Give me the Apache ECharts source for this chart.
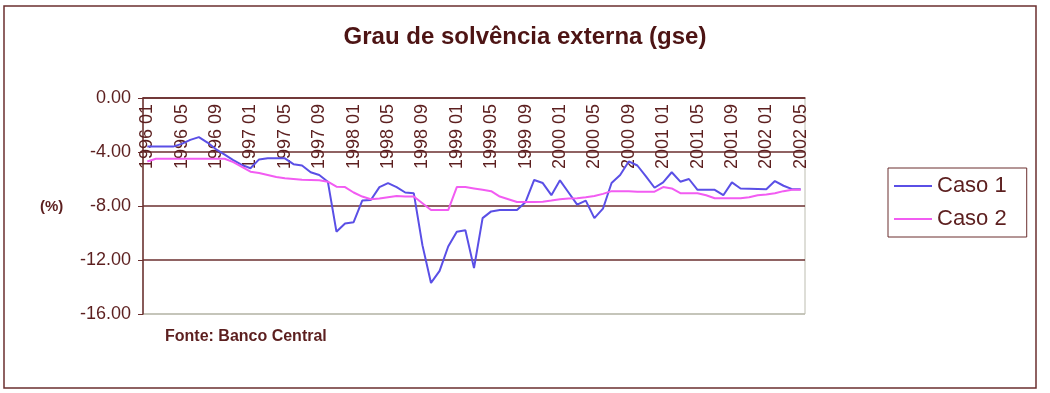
<!DOCTYPE html>
<html>
<head>
<meta charset="utf-8">
<script src="https://cdn.jsdelivr.net/npm/echarts@6/dist/echarts.min.js"></script>
<style>
  html, body { margin: 0; padding: 0; background: #fff; }
  #chart { width: 1050px; height: 393px; }
</style>
</head>
<body>
<div id="chart"></div>
<script>
// months 1996 01 .. 2002 05
const years = [1996, 1997, 1998, 1999, 2000, 2001, 2002]
const months = []
years.forEach(y => {
  for (let m = 1; m <= 12; m++) {
    if (y === 2002 && m > 5) break
    months.push(y + ' ' + String(m).padStart(2, '0'))
  }
})

const yTicks = [-16, -12, -8, -4, 0]

/* Caso 1 */
const caso1 = [
  -3.6, -3.6, -3.6, -3.6, -3.4, -3.1, -2.9, -3.3, -3.8, -4.2, -4.6, -4.95,
  -5.2, -4.55, -4.47, -4.47, -4.47, -4.9, -5.0, -5.5, -5.7, -6.2, -9.9, -9.3,
  -9.2, -7.6, -7.56, -6.6, -6.3, -6.6, -7.0, -7.06, -10.9, -13.7, -12.8, -11.0,
  -9.9, -9.8, -12.6, -8.9, -8.4, -8.3, -8.3, -8.3, -7.7, -6.07, -6.3, -7.2,
  -6.1, -7.0, -7.9, -7.6, -8.9, -8.2, -6.3, -5.7, -4.7, -5.0, -5.8, -6.65,
  -6.25, -5.5, -6.2, -6.0, -6.8, -6.8, -6.8, -7.2, -6.25, -6.7, -6.72, -6.74,
  -6.76, -6.15, -6.5, -6.75, -6.75
]

/* Caso 2 */
const caso2 = [
  -4.7, -4.5, -4.5, -4.5, -4.5, -4.5, -4.5, -4.5, -4.5, -4.5, -4.75, -5.1,
  -5.46, -5.55, -5.7, -5.85, -5.95, -6.0, -6.05, -6.07, -6.1, -6.2, -6.57, -6.6,
  -7.0, -7.3, -7.5, -7.45, -7.35, -7.26, -7.3, -7.3, -7.8, -8.3, -8.3, -8.3,
  -6.6, -6.6, -6.7, -6.8, -6.9, -7.3, -7.5, -7.7, -7.7, -7.7, -7.68, -7.6,
  -7.5, -7.45, -7.43, -7.35, -7.26, -7.1, -6.9, -6.9, -6.9, -6.94, -6.94, -6.94,
  -6.6, -6.7, -7.05, -7.05, -7.05, -7.2, -7.43, -7.43, -7.43, -7.43, -7.35, -7.2,
  -7.15, -7.06, -6.9, -6.8, -6.8
]

const maroon = '#5c1f1f'
const gridMaroon = '#6b2f2f'
const font = '"Liberation Sans", Arial, sans-serif'

const chart = echarts.init(document.getElementById('chart'))

chart.setOption({
  animation: false,
  backgroundColor: '#fff',
  title: {
    text: 'Grau de solvência externa (gse)',
    left: 'center',
    top: 20,
    textStyle: { fontFamily: font, fontSize: 24, fontWeight: 'bold', color: '#4d1414' }
  },
  legend: {
    orient: 'vertical',
    left: 888,
    top: 168,
    padding: [7, 20, 7, 6],
    itemGap: 11,
    itemWidth: 38,
    itemHeight: 2,
    icon: 'rect',
    borderColor: gridMaroon,
    borderWidth: 1,
    textStyle: { fontFamily: font, fontSize: 22, color: maroon },
    data: ['Caso 1', 'Caso 2']
  },
  grid: {
    left: 143,
    right: 245,
    top: 98,
    bottom: 79,
    show: true,
    borderColor: '#bdbdb0',
    borderWidth: 1
  },
  xAxis: {
    type: 'category',
    position: 'top',
    boundaryGap: true,
    data: months,
    axisLine: { lineStyle: { color: gridMaroon, width: 1.5 } },
    axisTick: { inside: true, interval: 0, length: 5, lineStyle: { color: gridMaroon } },
    axisLabel: {
      interval: 3,
      rotate: 90,
      inside: true,
      margin: 6,
      fontFamily: font,
      fontSize: 18,
      color: maroon
    },
    splitLine: { show: false }
  },
  yAxis: {
    type: 'value',
    min: yTicks[0],
    max: yTicks[yTicks.length - 1],
    interval: 4,
    axisLine: { show: true, lineStyle: { color: gridMaroon, width: 1.5 } },
    axisTick: { show: true, length: 5, lineStyle: { color: gridMaroon } },
    axisLabel: {
      margin: 12,
      fontFamily: font,
      fontSize: 18,
      color: maroon,
      formatter: v => v.toFixed(2)
    },
    splitLine: {
      lineStyle: {
        color: ['#bdbdb0', gridMaroon, gridMaroon, gridMaroon, gridMaroon],
        width: 1.5
      }
    }
  },
  series: [
    {
      name: 'Caso 1',
      type: 'line',
      data: caso1,
      showSymbol: false,
      color: '#5a4fe6',
      lineStyle: { width: 2, color: '#5a4fe6' }
    },
    {
      name: 'Caso 2',
      type: 'line',
      data: caso2,
      showSymbol: false,
      color: '#f25cf2',
      lineStyle: { width: 2, color: '#f25cf2' }
    }
  ],
  graphic: [
    {
      type: 'rect',
      shape: { x: 4, y: 6, width: 1032, height: 382 },
      style: { fill: null, stroke: gridMaroon, lineWidth: 1.5 },
      silent: true
    },
    {
      type: 'text',
      left: 40,
      top: 199,
      style: { text: '(%)', font: 'bold 15px ' + font, fill: maroon }
    },
    {
      type: 'text',
      left: 165,
      top: 329,
      style: { text: 'Fonte: Banco Central', font: 'bold 16px ' + font, fill: maroon }
    }
  ]
})
</script>
</body>
</html>
